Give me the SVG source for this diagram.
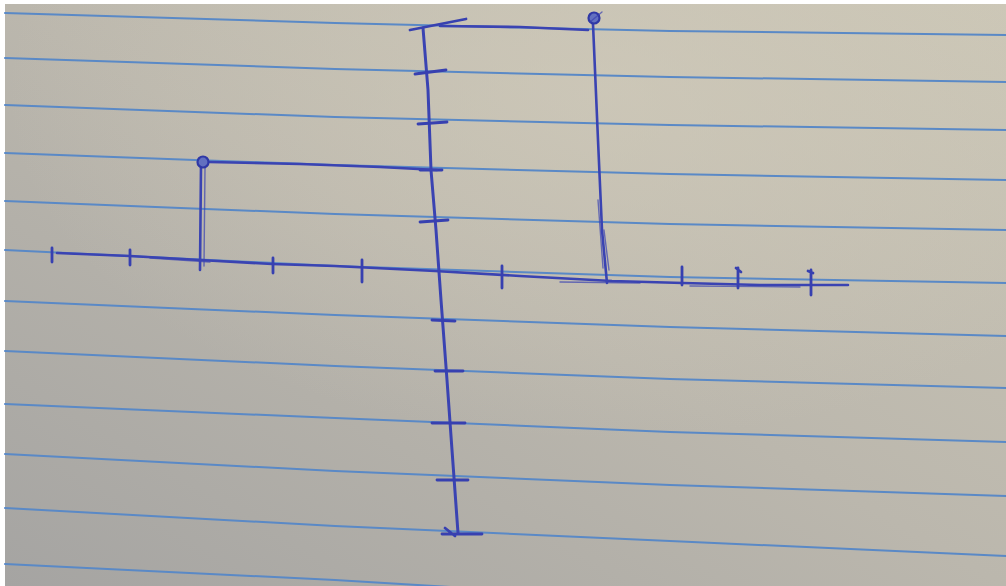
<svg xmlns="http://www.w3.org/2000/svg" width="1006" height="586" viewBox="0 0 1006 586">
<defs>
<linearGradient id="paper" x1="0" y1="1" x2="1" y2="0">
<stop offset="0" stop-color="#a5a4a2"/>
<stop offset="0.5" stop-color="#bbb7ad"/>
<stop offset="1" stop-color="#cbc6b6"/>
</linearGradient>
<radialGradient id="glow" cx="0.6" cy="0.15" r="0.6">
<stop offset="0" stop-color="#d2ccbb" stop-opacity="0.6"/>
<stop offset="1" stop-color="#d2ccbb" stop-opacity="0"/>
</radialGradient>
<style>
.rule{fill:none;stroke:#5a89c6;stroke-width:2;stroke-linecap:round;stroke-linejoin:round}
.pen{fill:none;stroke:#3a43b2;stroke-width:2.6;stroke-linecap:round;stroke-linejoin:round}
.penf{fill:none;stroke:#3a43b2;stroke-width:1.4;stroke-linecap:round;opacity:0.7}
.tick{fill:none;stroke:#3740b0;stroke-width:2.8;stroke-linecap:round}
.dot{fill:#6270c0;stroke:#2f38a6;stroke-width:2.2}
</style>
</defs>
<rect x="0" y="0" width="1006" height="586" fill="#ffffff"/>
<rect x="5" y="4" width="1001" height="582" fill="url(#paper)"/>
<rect x="5" y="4" width="1001" height="582" fill="url(#glow)"/>

<g id="ruled-lines">
<path class="rule" d="M5,13 L335,23 L670,31 L1006,35"/>
<path class="rule" d="M5,58 L335,69 L670,77 L1006,82"/>
<path class="rule" d="M5,105 L335,117 L670,125 L1006,130"/>
<path class="rule" d="M5,153 L335,165 L670,174 L1006,180"/>
<path class="rule" d="M5,201 L335,214 L670,224 L1006,230"/>
<path class="rule" d="M5,250 L335,266 L670,277 L1006,283"/>
<path class="rule" d="M5,301 L335,315 L670,327 L1006,336"/>
<path class="rule" d="M5,351 L335,366 L670,379 L1006,388"/>
<path class="rule" d="M5,404 L335,418 L670,432 L1006,442"/>
<path class="rule" d="M5,454 L335,471 L670,485 L1006,496"/>
<path class="rule" d="M5,508 L335,526 L670,541 L1006,556"/>
<path class="rule" d="M5,564 L335,580 L500,590"/>
</g>

<g id="x-axis">
<path class="pen" d="M57,253 L130,256 L200,260 L272,264 L335,266 L435,271 L520,276 L612,281 L683,283 L760,285 L848,285"/>
<path class="penf" d="M150,258 L210,262 M560,282 L640,283 M690,286 L800,287"/>
<path class="tick" d="M52,248 L52,262"/>
<path class="tick" d="M130,250 L130,265"/>
<path class="tick" d="M273,258 L273,273"/>
<path class="tick" d="M362,260 L362,282"/>
<path class="tick" d="M502,266 L502,288"/>
<path class="tick" d="M682,267 L682,285"/>
<path class="tick" d="M738,268 L738,288 M736,268 L741,272"/>
<path class="tick" d="M811,270 L811,295 M808,271 L813,273"/>
</g>

<g id="y-axis">
<path class="pen" d="M423,28 L428,90 L431,170 L436,230 L441,300 L447,380 L452,450 L458,533" style="stroke-width:3"/>
<path class="tick" d="M410,30 L466,19"/>
<path class="tick" d="M415,74 L446,70"/>
<path class="tick" d="M418,124 L447,122"/>
<path class="tick" d="M420,170 L442,170"/>
<path class="tick" d="M420,222 L448,220"/>
<path class="tick" d="M432,320 L455,321"/>
<path class="tick" d="M435,371 L463,371"/>
<path class="tick" d="M432,423 L465,423"/>
<path class="tick" d="M437,480 L468,480"/>
<path class="tick" d="M442,534 L482,534 M445,528 L455,536"/>
</g>

<g id="point-left">
<path class="pen" d="M201,165 L200,270"/>
<path class="penf" d="M205,168 L204,266"/>
<path class="pen" d="M209,162 L300,164 L380,167 L437,170"/>
<circle class="dot" cx="203" cy="162" r="5.5"/>
</g>

<g id="point-right">
<path class="pen" d="M593,24 L598,140 L602,230 L607,283"/>
<path class="penf" d="M598,200 L603,268 M604,230 L609,270"/>
<path class="pen" d="M440,26 L520,27 L588,30"/>
<circle class="dot" cx="594" cy="18" r="5.5"/>
<path class="penf" d="M590,22 L602,12"/>
</g>
</svg>
